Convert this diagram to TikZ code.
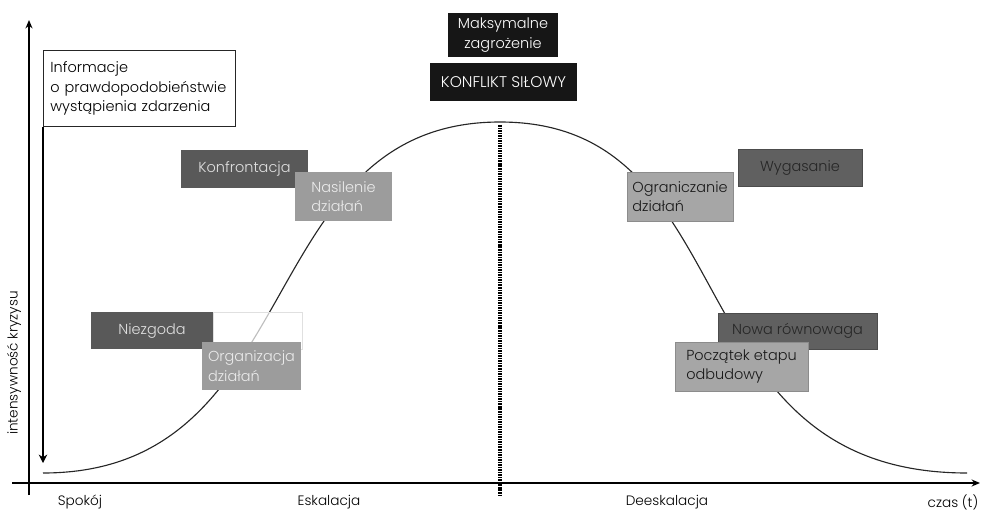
\documentclass[tikz,border=0pt]{standalone}
\usepackage{fontspec}
\setmainfont{Poppins}[UprightFont={* Light}]
\usetikzlibrary{arrows.meta}

\newcommand{\pxu}{0.025cm}
\definecolor{boxblack}{HTML}{161616}
\definecolor{boxdark}{HTML}{595959}
\definecolor{boxdarker}{HTML}{606060}
\definecolor{boxmid}{HTML}{9C9C9C}
\definecolor{boxlight}{HTML}{A6A6A6}

\tikzset{
  every node/.style={font=\fontsize{10.3}{14}\selectfont, inner sep=0pt},
  infobox/.style={draw=black!85, fill=white, line width=0.6pt, anchor=north west, align=left,
    text width=178*\pxu, inner xsep=7*\pxu, minimum height=76*\pxu},
  blackbox/.style={fill=boxblack, text=white, align=center},
  darkbox/.style={fill=boxdark, text=black!12, align=center},
  greybox/.style={fill=boxdarker, draw=black!70, text=black!85, align=center},
  midbox/.style={fill=boxmid, text=black!8, align=left},
  lightbox/.style={fill=boxlight, draw=black!45, text=black!90, align=left},
  axis/.style={line width=1.1pt, -{Stealth[length=6pt,width=5pt]}},
  curve/.style={line width=0.8pt, black!85},
  peakline/.style={line width=2.2pt, dash pattern=on 1.1pt off 0.7pt},
  axislabel/.style={font=\fontsize{9.7}{12}\selectfont}
}

\begin{document}
\begin{tikzpicture}[x=\pxu, y=-\pxu]
  \useasboundingbox (0,0) rectangle (981,512);

  % axes
  \coordinate (ybot) at (29,495);
  \coordinate (ytop) at (29,20);
  \coordinate (xleft) at (12,483);
  \coordinate (xright) at (980,483);
  \draw[axis] (ybot) -- (ytop);
  \draw[axis] (xleft) -- (xright);

  % crisis curve and its peak
  \draw[curve] (43,473) .. controls (310,473) and (250,122) .. (500,122)
                        .. controls (750,122) and (670,473) .. (967,473);
  \coordinate (peak) at (500,125);
  \coordinate (peakfoot) at (500,497);
  \draw[peakline] (peak) -- (peakfoot);

  % information box
  \node[infobox] (info) at (43,50) {Informacje\\o prawdopodobieństwie\\wystąpienia zdarzenia};
  \coordinate (infoend) at (43,463);
  \draw[line width=0.8pt, -{Stealth[length=6pt,width=6pt]}] (info.south west) -- (infoend);

  % top
  \node[blackbox, minimum width=110*\pxu, minimum height=44*\pxu] (maks) at (503,35) {Maksymalne\\zagrożenie};
  \node[blackbox, minimum width=147*\pxu, minimum height=38*\pxu, font=\fontsize{11}{14}\selectfont] (konflikt) at (503.5,82) {KONFLIKT SIŁOWY};

  % escalation
  \node[darkbox, minimum width=127*\pxu, minimum height=38*\pxu] (konfr) at (244.5,169) {Konfrontacja};
  \node[midbox, minimum width=97*\pxu, minimum height=49*\pxu] (nasil) at (343.5,196.5) {Nasilenie\\działań};
  \node[darkbox, minimum width=122*\pxu, minimum height=37*\pxu] (niezg) at (152,330.5) {Niezgoda};
  \node[fill=white, fill opacity=0.7, draw=black!12, minimum width=89*\pxu, minimum height=37*\pxu] (niezgtail) at (257.5,330.5) {};
  \node[midbox, minimum width=99*\pxu, minimum height=48*\pxu] (organ) at (251.5,366) {Organizacja\\działań};

  % de-escalation
  \node[lightbox, minimum width=106*\pxu, minimum height=49*\pxu] (ogran) at (680,196.5) {Ograniczanie\\działań};
  \node[greybox, minimum width=124*\pxu, minimum height=37*\pxu] (wygas) at (800,167.5) {Wygasanie};
  \node[greybox, minimum width=159*\pxu, minimum height=36*\pxu] (nowa) at (797.5,331) {Nowa równowaga};
  \node[lightbox, minimum width=133*\pxu, minimum height=49*\pxu] (poczatek) at (741.5,366.5) {Początek etapu\\odbudowy};

  % labels
  \node[axislabel, rotate=90] (ylabel) at (14,363) {intensywność kryzysu};
  \node[axislabel] (spokoj) at (80,502) {Spokój};
  \node[axislabel] (eskal) at (329,502) {Eskalacja};
  \node[axislabel] (deeskal) at (667,502) {Deeskalacja};
  \node[axislabel] (czas) at (953,502) {czas (t)};
\end{tikzpicture}
\end{document}
